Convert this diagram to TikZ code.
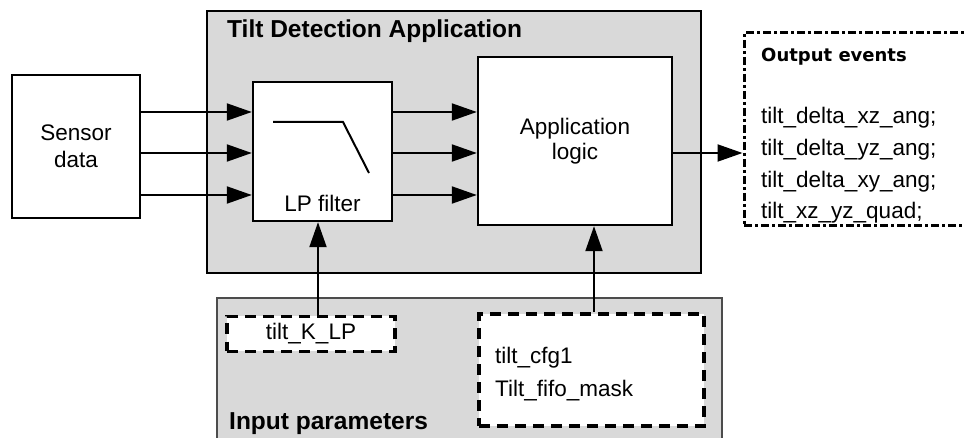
\documentclass[tikz,border=0pt]{standalone}
\usepackage{fontspec}
\setmainfont{Liberation Sans}
\newfontfamily\eventfont{DejaVu Sans}
\usepackage{tikz}
\usetikzlibrary{arrows.meta}
\usetikzlibrary{positioning}
\usepackage{xcolor}
\definecolor{panelgray}{RGB}{217,217,217}
\tikzset{
	block/.style={rectangle,draw,line width=2.4pt,fill=white},
	panel/.style={rectangle,draw,fill=panelgray},
	parambox/.style={rectangle,draw,fill=white,line width=3.5pt,dash pattern=on 11pt off 7pt},
	flow/.style={-{Triangle[length=25pt,width=17pt]},line width=2pt},
	txt/.style={inner sep=0pt,font=\fontsize{22.5}{26}\selectfont},
	boldtxt/.style={inner sep=0pt,anchor=west,font=\bfseries\fontsize{24.5}{28}\selectfont},
}

\begin{document}
\begin{tikzpicture}[x=1pt,y=-1pt]
	\useasboundingbox (0,0) rectangle (964,438);
	\clip (0,0) rectangle (964,438);
	% grey panels
	\node[panel,line width=2.4pt,minimum width=494pt,minimum height=262pt] (TiltApp) at (454,142) {};
	\node[boldtxt] (TiltTitle) at (227,31) {Tilt Detection Application};
	\node[panel,line width=1.2pt,draw=black!70,minimum width=505pt,minimum height=160pt] (InputPanel) at (469.5,378) {};
	\node[boldtxt] (InputTitle) at (229,424) {Input parameters};
	% blocks
	\node[block,txt,align=center,font=\fontsize{22.5}{27}\selectfont,minimum width=128pt,minimum height=143pt] (Sensor) at (76,146.5) {Sensor\\data};
	\node[block,minimum width=139pt,minimum height=139pt] (LPFilter) at (322.5,151.5) {};
	\node[txt] (LPLabel) at (322.5,203) {LP filter};
	\draw[line width=2pt] (273,122) -- (343,122) -- (369,173);
	\node[block,txt,align=center,font=\fontsize{22.5}{25}\selectfont,minimum width=194pt,minimum height=168pt] (AppLogic) at (575,141) {Application\\logic};
	\foreach \y in {112,153,195} {
		\draw[flow] (Sensor.east |- 0,\y) -- (LPFilter.west |- 0,\y);
		\draw[flow] (LPFilter.east |- 0,\y) -- (AppLogic.west |- 0,\y);
	}
	% output events
	\node[rectangle,draw,line width=3pt,dash pattern=on 8pt off 3pt on 3pt off 3pt,minimum width=240pt,minimum height=193pt] (OutputEvents) at (864,129.5) {};
	\draw[flow] (AppLogic.east |- 0,153) -- (OutputEvents.west |- 0,153);
	\node[inner sep=0pt,anchor=west,font=\eventfont\bfseries\fontsize{18}{22}\selectfont] (OutTitle) at (761,57) {Output events};
	\node[txt,anchor=west] (EvXZ) at (761,118) {tilt\_delta\_xz\_ang;};
	\node[txt,anchor=west] (EvYZ) at (761,150) {tilt\_delta\_yz\_ang;};
	\node[txt,anchor=west] (EvXY) at (761,182) {tilt\_delta\_xy\_ang;};
	\node[txt,anchor=west] (EvQuad) at (761,213) {tilt\_xz\_yz\_quad;};
	% input parameters
	\node[parambox,txt,minimum width=168pt,minimum height=35pt] (TiltKLP) at (311,334) {tilt\_K\_LP};
	\node[parambox,minimum width=225pt,minimum height=112pt] (TiltCfg) at (591.5,370) {};
	\node[txt,anchor=west] (Cfg1) at (495,358) {tilt\_cfg1};
	\node[txt,anchor=west] (FifoMask) at (495,391) {Tilt\_fifo\_mask};
	\draw[flow] ([xshift=7pt]TiltKLP.north) -- ([xshift=-4.5pt]LPFilter.south);
	\draw[flow] ([xshift=2.5pt]TiltCfg.north) -- ([xshift=2.5pt]TiltCfg.north |- AppLogic.south);
\end{tikzpicture}
\end{document}
